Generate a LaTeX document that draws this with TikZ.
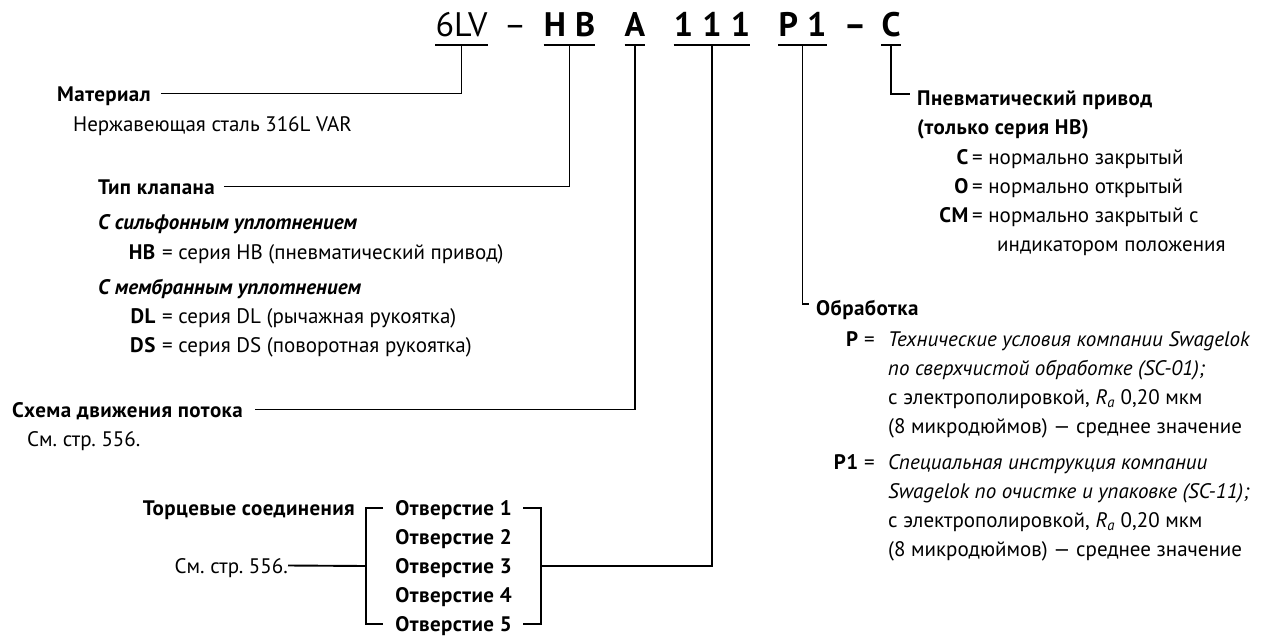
\documentclass[tikz,border=0pt]{standalone}
\usepackage{fontspec}
\setmainfont{PT Sans}[BoldFeatures={LetterSpace=2}]
\usetikzlibrary{positioning}
\frenchspacing

\tikzset{
  code/.style={anchor=base, inner xsep=0pt, inner ysep=9pt, text depth=0pt, font=\fontsize{34}{40}\selectfont},
  codeb/.style={code, font=\fontsize{34}{40}\selectfont\bfseries},
  head/.style={anchor=base west, inner sep=0pt, text height=15pt, text depth=0pt, font=\bfseries},
  txt/.style={anchor=base west, inner sep=0pt, text height=15pt, text depth=0pt},
  key/.style={anchor=base east, inner sep=0pt, text height=15pt, text depth=0pt},
  lead/.style={line width=1.9pt},
}

\begin{document}
\fontsize{21}{29}\selectfont
\begin{tikzpicture}[x=1pt, y=-1pt]
\useasboundingbox (0,0) rectangle (1268,637);

% order code
\node[code]  (lv)   at (461.5,36) {6LV};
\node[code]  (d1)   at (515,36)   {–};
\node[codeb] (hb)   at (569.5,36) {H B};
\node[codeb] (a)    at (635,36)   {A};
\node[codeb] (ones) at (712,36)   {1 1 1};
\node[codeb] (p1)   at (802.5,36) {P 1};
\node[codeb] (d2)   at (855,36)   {–};
\node[codeb] (c)    at (891,36)   {C};
\foreach \n in {lv,hb,a,ones,p1,c}
  \draw[lead] (\n.south west) -- (\n.south east);

% left column
\node[head] (mat) at (57,101) {Материал};
\node[txt] (matv) at (73,131) {Нержавеющая сталь 316L VAR};

\node[head] (typ) at (98,194) {Тип клапана};
\node[head] (bel) at (98,229) {\itshape С сильфонным уплотнением};
\node[key] (khb) at (156,259) {\textbf{HB}};
\node[txt, base right=6pt of khb] {= серия HB (пневматический привод)};
\node[head] (mem) at (98,294) {\itshape С мембранным уплотнением};
\node[key] (kdl) at (156,323) {\textbf{DL}};
\node[txt, base right=6pt of kdl] {= серия DL (рычажная рукоятка)};
\node[key] (kds) at (156,352) {\textbf{DS}};
\node[txt, base right=6pt of kds] {= серия DS (поворотная рукоятка)};

\node[head] (flow) at (12,417) {Схема движения потока};
\node[txt] (see1) at (27,446) {См. стр. 556.};

% end connections
\node[key, font=\bfseries] (ends) at (355,515) {Торцевые соединения};
\node[key] (see2) at (288,573) {См. стр. 556.};
\foreach \i/\y in {1/515,2/544,3/573,4/602,5/631}
  \node[anchor=base, inner sep=0pt, font=\bfseries] (port\i) at (453.5,\y) {Отверстие \i};
\draw[lead] (383,508) -- (366,508) -- (366,624) -- (383,624);
\draw[lead] (523,508) -- (541,508) -- (541,624) -- (523,624);
\coordinate (bl) at (366,566);
\coordinate (br) at (541,566);

% right column
\node[head] (pneu) at (917,105) {Пневматический привод};
\node[head] (pneu2) at (917,134) {(только серия HB)};
\node[key] (kc) at (969,164) {\textbf{C}};
\node[txt, base right=3pt of kc] {= нормально закрытый};
\node[key] (ko) at (969,193) {\textbf{O}};
\node[txt, base right=3pt of ko] {= нормально открытый};
\node[key] (kcm) at (969,222) {\textbf{CM}};
\node[txt, base right=3pt of kcm] {= нормально закрытый с};
\node[txt] at (997,251) {индикатором положения};

\node[head] (proc) at (816,315) {Обработка};
\node[key] (kp) at (875,346) {\textbf{P} =};
\node[txt] at (888,346) {\itshape Технические условия компании Swagelok};
\node[txt] at (888,375) {\itshape по сверхчистой обработке (SC-01);};
\node[txt] at (888,404) {с электрополировкой, \textit{R}\textsubscript{\textit{a}} 0,20 мкм};
\node[txt] at (888,433) {(8 микродюймов) — среднее значение};
\node[key] (kp1) at (875,469) {\textbf{P1} =};
\node[txt] at (888,469) {\itshape Специальная инструкция компании};
\node[txt] at (888,498) {\itshape Swagelok по очистке и упаковке (SC-11);};
\node[txt] at (888,527) {с электрополировкой, \textit{R}\textsubscript{\textit{a}} 0,20 мкм};
\node[txt] at (888,556) {(8 микродюймов) — среднее значение};

% leads
\draw[lead, shorten <=10pt] (mat.east) -| (lv.south);
\draw[lead, shorten <=9pt] (typ.east) -| (hb.south);
\draw[lead, shorten <=12pt] (flow.east) -| (a.south);
\draw[lead] (see2.east) -- (bl);
\draw[lead] (br) -| (ones.south);
\draw[lead] (p1.south) |- ([xshift=-7pt,yshift=11pt]proc.base west);
\draw[lead] (c.south) |- ([xshift=-7pt,yshift=11pt]pneu.base west);
\end{tikzpicture}
\end{document}
